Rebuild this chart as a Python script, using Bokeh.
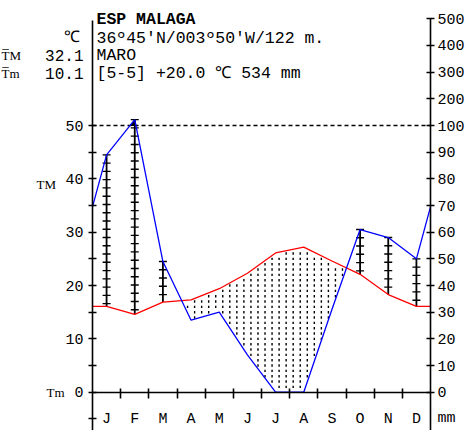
import numpy as np
from bokeh.plotting import figure
from bokeh.models import Range1d, LinearAxis, FixedTicker
from bokeh.core.properties import value
from bokeh.embed import file_html
from bokeh.resources import INLINE

# ---------------- data ----------------
months = ["J", "F", "M", "A", "M", "J", "J", "A", "S", "O", "N", "D"]
temp_c = [16.1, 14.6, 16.9, 17.3, 19.4, 22.3, 26.1, 27.2, 24.6, 22.1, 18.3, 16.1]
prec_mm = [89, 122, 49, 27, 30, 14, 0, 0, 31, 61, 58, 50]
temp_ticks = [-5, 0, 5, 10, 15, 20, 25, 30, 35, 40, 45, 50]
temp_labels = [0, 10, 20, 30, 40, 50]
prec_ticks = [0, 10, 20, 30, 40, 50, 60, 70, 80, 90, 100, 200, 300, 400, 500]
station = "ESP MALAGA"
coords = "36\u00ba45'N/003\u00ba50'W/122 m."
source_name = "MARO"
summary = "[5-5] +20.0 \u2103 534 mm"
tmax_abs = "32.1"
tmin_abs = "10.1"

# ---------------- geometry (pixels of the 471x430 page) ----------------
W, H = 471, 430
PX_L, PX_R = 92.0, 430.0
PX_Y0, PX_DEG = 391.7, 5.334
PPM = (PX_R - PX_L) / 12.0


def X(px):
    return (px - PX_L) / PPM


def Y(py):
    return (PX_Y0 - py) / PX_DEG


def mm2y(p):
    return p / 2.0 if p <= 100 else 50.0 + (p - 100) / 20.0


MONO_NAME = "Liberation Mono"
MONO = value(MONO_NAME)
SERIF = value("Liberation Serif")

p = figure(width=W, height=H, x_range=Range1d(X(0), X(W)), y_range=Range1d(Y(H), Y(0)),
           toolbar_location=None, output_backend="svg", min_border=0,
           x_axis_location=None, y_axis_location=None, outline_line_color=None,
           background_fill_color="white", border_fill_color="white")
p.grid.visible = False

n = len(months)
centers = np.arange(n) + 0.5
xs = np.concatenate([[0.0], centers, [float(n)]])
t_edge = (temp_c[0] + temp_c[-1]) / 2.0
tt = np.array([t_edge] + temp_c + [t_edge])
pp_mm = [(prec_mm[0] + prec_mm[-1]) / 2.0] + prec_mm + [(prec_mm[0] + prec_mm[-1]) / 2.0]
pp = np.array([mm2y(v) for v in pp_mm])


def regions(x, top, bot):
    d = top - bot
    rx, rt, rb = [x[0]], [top[0]], [bot[0]]
    for k in range(len(x) - 1):
        d0, d1 = d[k], d[k + 1]
        if d0 * d1 < 0:
            f = d0 / (d0 - d1)
            xc = x[k] + f * (x[k + 1] - x[k])
            tc = top[k] + f * (top[k + 1] - top[k])
            rx.append(xc); rt.append(tc); rb.append(tc)
        rx.append(x[k + 1]); rt.append(top[k + 1]); rb.append(bot[k + 1])
    polys_x, polys_y = [], []
    run = []
    for a, b, c in zip(rx, rt, rb):
        if b - c >= -1e-9:
            run.append((a, b, c))
        else:
            if len(run) > 1:
                polys_x.append([r[0] for r in run] + [r[0] for r in run[::-1]])
                polys_y.append([r[1] for r in run] + [r[2] for r in run[::-1]])
            run = []
    if len(run) > 1:
        polys_x.append([r[0] for r in run] + [r[0] for r in run[::-1]])
        polys_y.append([r[1] for r in run] + [r[2] for r in run[::-1]])
    return polys_x, polys_y


# arid period (temperature above precipitation): dotted texture
dx, dy = [], []
for cx in np.arange(0.125, n, 0.25):
    tv = np.interp(cx, xs, tt)
    pv = np.interp(cx, xs, pp)
    for ry in np.arange(1.0, 60.0, 1.0):
        if pv + 0.3 < ry < tv - 0.3:
            dx.append(cx); dy.append(ry)
p.rect(dx, dy, width=1.4, height=2.4, width_units="screen", height_units="screen",
       fill_color="black", line_color=None)

# very wet part (above 100 mm): solid black
lim = np.full_like(pp, mm2y(100))
wx, wy = regions(xs, pp, lim)
p.patches(wx, wy, fill_color="black", line_color="black", line_width=1)

# humid period ladders at month centres
lx, ly0, ly1, tkx, tky = [], [], [], [], []
for c, t, pv in zip(centers, temp_c, prec_mm):
    py = mm2y(pv)
    if py > t:
        lx.append(c); ly0.append(t); ly1.append(py)
        for yy in np.arange(py, t, -1.55):
            tkx.append(c); tky.append(yy)
p.segment(lx, ly0, lx, ly1, line_color="black", line_width=1.8)
p.scatter(tkx, tky, marker="dash", size=8, line_color="black", line_width=1.4)

# 100 mm reference line
p.segment([0], [mm2y(100)], [n], [mm2y(100)], line_color="black", line_width=1.3,
          line_dash="4 3")

# curves
p.line(xs, tt, line_color="#ff0000", line_width=1.3)
p.line(xs, pp, line_color="#0000ff", line_width=1.3)

# ---------------- axes ----------------
FS = "15px"
la = LinearAxis(fixed_location=0, ticker=FixedTicker(ticks=temp_ticks),
                bounds=(Y(H), Y(20)), major_tick_in=4, major_tick_out=4,
                minor_tick_line_color=None, axis_line_width=1.6, major_tick_line_width=1.6,
                major_label_standoff=5,
                major_label_overrides={t: (str(t) if t in temp_labels else "") for t in temp_ticks},
                major_label_text_font=MONO_NAME, major_label_text_font_size=FS,
                major_label_text_color="black")
p.add_layout(la, "left")

rpos = [mm2y(v) for v in prec_ticks]
rpos = [int(v) if float(v).is_integer() else v for v in rpos]
ra = LinearAxis(fixed_location=n, ticker=FixedTicker(ticks=rpos),
                bounds=(Y(H), mm2y(prec_ticks[-1])), major_tick_in=4, major_tick_out=4,
                minor_tick_line_color=None, axis_line_width=1.6, major_tick_line_width=1.6,
                major_label_standoff=3,
                major_label_overrides={ps: str(v) for ps, v in zip(rpos, prec_ticks)},
                major_label_text_font=MONO_NAME, major_label_text_font_size=FS,
                major_label_text_color="black")
p.add_layout(ra, "right")

ba = LinearAxis(fixed_location=0, ticker=FixedTicker(ticks=list(range(1, n))),
                bounds=(0, n), major_tick_in=4, major_tick_out=6,
                minor_tick_line_color=None, axis_line_width=1.6, major_tick_line_width=1.6,
                major_label_overrides={i: "" for i in range(1, n)},
                major_label_text_font_size="1px")
p.add_layout(ba, "below")

# month labels
p.text(list(centers), [Y(419)] * n, text=months, text_font=MONO, text_font_size=FS,
       text_align="center", text_baseline="alphabetic", text_color="black")

# ---------------- texts ----------------
def txt(px, py, s, font=MONO, size="16px", align="left", style="normal"):
    p.text([X(px)], [Y(py)], text=[s], text_font=font, text_font_size=size,
           text_align=align, text_baseline="alphabetic", text_font_style=style,
           text_color="black")

txt(96, 18.5, station, size="16.5px", style="bold")
txt(96, 37.5, coords, size="16.5px")
txt(96, 54.5, source_name, size="16.5px")
txt(96, 72.7, summary, size="16.5px")
txt(79, 37.5, "\u2103", align="right")
txt(83, 54.5, tmax_abs, align="right")
txt(83, 72.7, tmin_abs, align="right")
txt(1, 54.5, "T\u0305M", font=SERIF, size="13px")
txt(1, 72.7, "T\u0305m", font=SERIF, size="13px")
txt(36, 183.5, "TM", font=SERIF, size="13px")
txt(46, 392, "Tm", font=SERIF, size="13px")
txt(437, 418, "mm", size="15px")

open("out.html", "w").write(file_html(p, INLINE))
